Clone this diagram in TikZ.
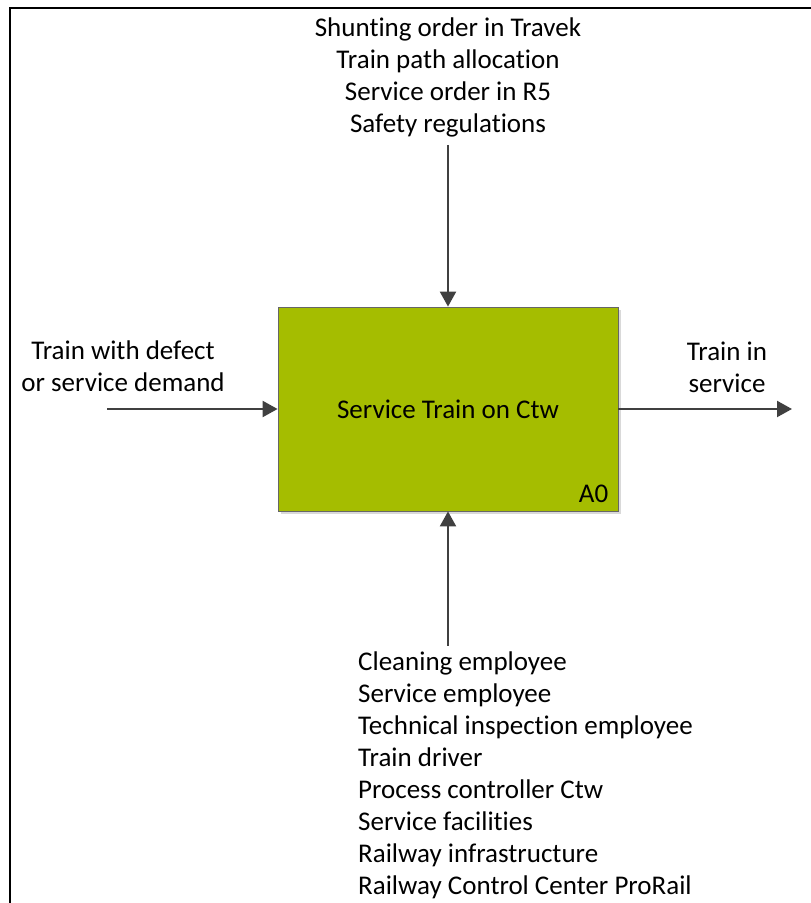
\documentclass[tikz,border=0pt]{standalone}
\usepackage{fontspec}
\setmainfont{Carlito}[Ligatures=NoCommon]
\usepackage{xcolor}
\usetikzlibrary{arrows.meta,positioning,shadows}

\definecolor{activity}{HTML}{A5BD00}
\definecolor{flow}{HTML}{404040}

\begin{document}
\begin{tikzpicture}[
            x = 1pt, y = 1pt,
            > = {Triangle[length=15pt,width=16pt]}, % arrow head style
            flow/.style = {->, draw = flow, line width = 2.2pt},
            lbl/.style = {inner sep = 0pt, font = \fontsize{27}{32}\selectfont},
            every node/.style = {text = black}
        ]

        \tikzstyle{activitybox}=[
            draw = gray!80!black,
            fill = activity,
            line width = 0.8pt,
            minimum width = 340pt,
            minimum height = 204pt,
            drop shadow = {shadow xshift = 3pt, shadow yshift = -3pt, fill = gray!30, opacity = 1},
            font = \fontsize{27}{32}\selectfont
        ]

        \useasboundingbox (0,0) rectangle (811,903);
        % frame
        \draw[line width = 2pt] (9.5,0) -- (9.5,894.5) -- (811,894.5);

        % activity
        \node[activitybox] (box) at (448,494) {Service Train on Ctw};
        \node[lbl, anchor = south east] (a0) at ([xshift=-10pt, yshift=9pt]box.south east) {A0};

        % controls
        \node[lbl, align = center] (ctrl) at (448,826) {Shunting order in Travek\\Train path allocation\\Service order in R5\\Safety regulations};
        \path[flow] ([yshift=-8pt]ctrl.south) -- (box.north);

        % input
        \node[lbl, align = center] (input) at (123,537) {Train with defect\\or service demand};
        \coordinate (intail) at (107,494);
        \path[flow] (intail) -- (box.west);

        % output
        \node[lbl, align = center] (output) at (727,536) {Train in\\service};
        \coordinate (outhead) at (792,494);
        \path[flow] (box.east) -- (outhead);

        % mechanisms
        \node[lbl, align = left, anchor = north west] (mech) at (358,251) {Cleaning employee\\Service employee\\Technical inspection employee\\Train driver\\Process controller Ctw\\Service facilities\\Railway infrastructure\\Railway Control Center ProRail};
        \path[flow] ([yshift=6pt]box.south |- mech.north) -- (box.south);

\end{tikzpicture}
\end{document}
